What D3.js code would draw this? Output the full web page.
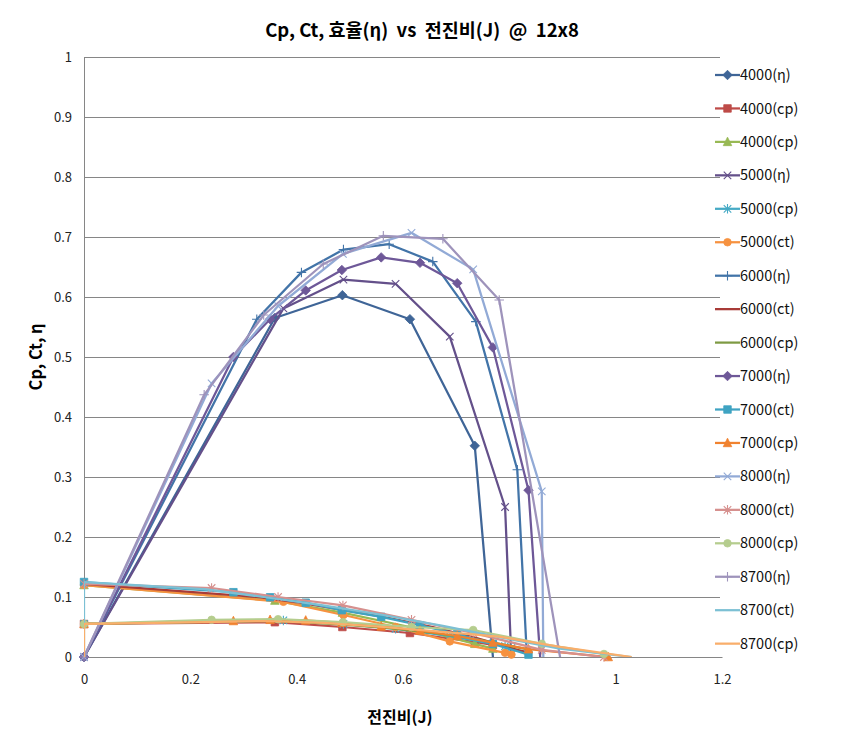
<!DOCTYPE html>
<html><head><meta charset="utf-8">
<script src="https://cdn.jsdelivr.net/npm/d3@7"></script>
<style>
html,body{margin:0;padding:0;background:#fff;}
svg{display:block;}
text{font-family:"Noto Sans CJK KR","Noto Sans",sans-serif;}
</style></head>
<body>
<svg id="chart" width="847" height="744"></svg>
<script>
// ---------- DATA ----------
const xTicks = [0, 0.2, 0.4, 0.6, 0.8, 1, 1.2];
const xTickLabels = ["0", "0.2", "0.4", "0.6", "0.8", "1", "1.2"];
const yTicks = [0, 0.1, 0.2, 0.3, 0.4, 0.5, 0.6, 0.7, 0.8, 0.9, 1];
const yTickLabels = ["0", "0.1", "0.2", "0.3", "0.4", "0.5", "0.6", "0.7", "0.8", "0.9", "1"];

const seriesNames = ["4000(η)","4000(cp)","4000(cp)","5000(η)","5000(cp)","5000(ct)",
  "6000(η)","6000(ct)","6000(cp)","7000(η)","7000(ct)","7000(cp)",
  "8000(η)","8000(ct)","8000(cp)","8700(η)","8700(ct)","8700(cp)"];

// advance ratio J and efficiency (last points fall below the axis and are clipped)
const jEta4000 = [0, 0.359, 0.486, 0.613, 0.735, 0.774];
const eta4000  = [0, 0.565, 0.603, 0.563, 0.352, -0.05];
const jEta5000 = [0, 0.375, 0.488, 0.586, 0.688, 0.792, 0.806];
const eta5000  = [0, 0.581, 0.629, 0.622, 0.534, 0.250, -0.05];
const jEta6000 = [0, 0.325, 0.409, 0.488, 0.574, 0.656, 0.737, 0.815, 0.836];
const eta6000  = [0, 0.563, 0.641, 0.679, 0.688, 0.659, 0.559, 0.312, -0.05];
const jEta7000 = [0, 0.281, 0.350, 0.417, 0.485, 0.559, 0.632, 0.702, 0.769, 0.836, 0.862];
const eta7000  = [0, 0.500, 0.563, 0.611, 0.645, 0.666, 0.657, 0.623, 0.516, 0.278, -0.05];
const jEta8000 = [0, 0.240, 0.365, 0.487, 0.616, 0.732, 0.861, 0.8645];
const eta8000  = [0, 0.456, 0.585, 0.672, 0.707, 0.646, 0.276, -0.05];
const jEta8700 = [0, 0.226, 0.338, 0.450, 0.563, 0.675, 0.781, 0.905];
const eta8700  = [0, 0.437, 0.570, 0.655, 0.702, 0.697, 0.595, -0.05];

// coefficients
const jLow4000 = [0, 0.359, 0.486, 0.613, 0.735, 0.769];
const cpA4000  = [0.055, 0.058, 0.050, 0.040, 0.025, 0.020];
const cpB4000  = [0.120, 0.094, 0.074, 0.050, 0.022, 0.014];
const jLow5000 = [0, 0.375, 0.488, 0.586, 0.688, 0.792, 0.804];
const cp5000   = [0.055, 0.061, 0.055, 0.047, 0.035, 0.018, 0.015];
const ct5000   = [0.120, 0.092, 0.070, 0.050, 0.026, 0.007, 0.004];
const jLow6000 = [0, 0.325, 0.409, 0.488, 0.574, 0.656, 0.737, 0.815, 0.833];
const ct6000   = [0.122, 0.100, 0.090, 0.078, 0.065, 0.050, 0.032, 0.012, 0.008];
const cp6000   = [0.055, 0.060, 0.058, 0.054, 0.048, 0.040, 0.030, 0.016, 0.013];
const jCt7000  = [0, 0.281, 0.350, 0.417, 0.485, 0.559, 0.632, 0.702, 0.769, 0.836];
const ct7000   = [0.125, 0.108, 0.0995, 0.0905, 0.078, 0.067, 0.053, 0.038, 0.022, 0.004];
const jCp7000  = [0, 0.281, 0.350, 0.417, 0.485, 0.559, 0.632, 0.702, 0.769, 0.836, 0.986];
const cp7000   = [0.055, 0.060, 0.062, 0.061, 0.057, 0.051, 0.044, 0.035, 0.024, 0.013, 0];
const jLow8000 = [0, 0.240, 0.365, 0.487, 0.616, 0.732, 0.861, 0.978];
const ct8000   = [0.122, 0.115, 0.100, 0.086, 0.062, 0.040, 0.012, 0];
const cp8000   = [0.055, 0.062, 0.063, 0.058, 0.050, 0.045, 0.022, 0.005];
const jLow8700 = [0, 0, 0.226, 0.338, 0.450, 0.563, 0.675, 0.781, 0.895, 1.030];
const ct8700   = [0, 0.125, 0.113, 0.100, 0.086, 0.070, 0.052, 0.033, 0.014, 0];
const cp8700   = [0, 0.055, 0.058, 0.060, 0.057, 0.050, 0.042, 0.034, 0.017, 0];

const seriesJ = [jEta4000, jLow4000, jLow4000, jEta5000, jLow5000, jLow5000,
  jEta6000, jLow6000, jLow6000, jEta7000, jCt7000, jCp7000,
  jEta8000, jLow8000, jLow8000, jEta8700, jLow8700, jLow8700];
const seriesV = [eta4000, cpA4000, cpB4000, eta5000, cp5000, ct5000,
  eta6000, ct6000, cp6000, eta7000, ct7000, cp7000,
  eta8000, ct8000, cp8000, eta8700, ct8700, cp8700];

// ---------- STYLE ----------
const seriesColor = ["#3f6597","#be4b48","#98b954","#64508a","#46aac5","#f69240",
  "#4274a8","#a83b38","#7e9a43","#6e5898","#3fa3c2","#f0822f",
  "#92aad6","#d6908e","#b5cd8e","#9e93bb","#7cc0d4","#f9ae6b"];
const seriesMarker = ["diamond","square","triangle","x","star","circle",
  "plus","none","none","diamond","square","triangle",
  "x","star","circle","plus","none","none"];

const svg = d3.select("#chart");
const x = d3.scaleLinear().domain([0, 1.2]).range([84, 722]);
const y = d3.scaleLinear().domain([0, 1]).range([657, 57]);

const NB = "\u00a0";
// title
svg.append("text").attr("x", 422).attr("y", 37).attr("text-anchor", "middle")
  .attr("font-size", 18.5).attr("font-weight", "bold").attr("fill", "#000")
  .text(`Cp, Ct, 효율(η)${NB}${NB}vs${NB}${NB}전진비(J)${NB}${NB}@${NB}${NB}12x8`);

// y axis with gridlines
const yAxis = svg.append("g").attr("transform", "translate(84,0)")
  .call(d3.axisLeft(y).tickValues(yTicks).tickFormat((d, i) => yTickLabels[i])
    .tickSizeInner(-636).tickSizeOuter(0).tickPadding(12));
yAxis.selectAll(".tick line").attr("stroke", "#868686").attr("stroke-width", 1);
yAxis.select(".domain").attr("stroke", "#868686");
yAxis.selectAll(".tick text").attr("font-size", 13).attr("fill", "#222")
  .style("font-family", "'Noto Sans CJK KR', sans-serif");

// x axis
const xAxis = svg.append("g").attr("transform", "translate(0,657)")
  .call(d3.axisBottom(x).tickValues(xTicks).tickFormat((d, i) => xTickLabels[i])
    .tickSize(0).tickPadding(18));
xAxis.select(".domain").attr("stroke", "#868686");
xAxis.selectAll(".tick text").attr("font-size", 13).attr("fill", "#222")
  .style("font-family", "'Noto Sans CJK KR', sans-serif");

// axis titles
svg.append("text").attr("transform", "translate(42,357) rotate(-90)")
  .attr("text-anchor", "middle").attr("font-size", 16.5).attr("font-weight", "bold")
  .text("Cp, Ct, η");
svg.append("text").attr("x", 400).attr("y", 723).attr("text-anchor", "middle")
  .attr("font-size", 16).attr("font-weight", "bold").text("전진비(J)");

// clip paths
const defs = svg.append("defs");
defs.append("clipPath").attr("id", "clipLine").append("rect")
  .attr("x", 84).attr("y", 40).attr("width", 640).attr("height", 617);
defs.append("clipPath").attr("id", "clipMark").append("rect")
  .attr("x", 70).attr("y", 40).attr("width", 660).attr("height", 628);

function markerPath(type, s) {
  const h = s / 2;
  switch (type) {
    case "diamond": return `M0,${-h-1}L${h+1},0L0,${h+1}L${-h-1},0Z`;
    case "square": return `M${-h},${-h}H${h}V${h}H${-h}Z`;
    case "triangle": return `M0,${-h-1}L${h+0.5},${h}L${-h-0.5},${h}Z`;
    case "circle": return d3.symbol(d3.symbolCircle, s * s * 0.8)();
    case "x": return `M${-h},${-h}L${h},${h}M${-h},${h}L${h},${-h}`;
    case "star": return `M${-h},${-h}L${h},${h}M${-h},${h}L${h},${-h}M0,${-h-1}V${h+1}`;
    case "plus": return `M${-h-1},0H${h+1}M0,${-h-1}V${h+1}`;
  }
  return "";
}
const strokeOnly = new Set(["x", "star", "plus"]);

const line = d3.line().x(d => x(d[0])).y(d => y(d[1]));
const plot = svg.append("g");

seriesNames.forEach((name, i) => {
  const pts = seriesJ[i].map((j, k) => [j, seriesV[i][k]]);
  const g = plot.append("g");
  g.append("path").datum(pts).attr("d", line).attr("fill", "none")
    .attr("stroke", seriesColor[i]).attr("stroke-width", 2.25)
    .attr("stroke-linejoin", "round").attr("clip-path", "url(#clipLine)");
  const m = seriesMarker[i];
  if (m !== "none") {
    const so = strokeOnly.has(m);
    g.append("g").attr("clip-path", "url(#clipMark)")
      .selectAll("path").data(pts).join("path")
      .attr("transform", d => `translate(${x(d[0])},${y(d[1])})`)
      .attr("d", markerPath(m, 7.5))
      .attr("fill", so ? "none" : seriesColor[i])
      .attr("stroke", seriesColor[i]).attr("stroke-width", so ? 1.1 : 0.8);
  }
});

// legend
const legend = svg.append("g");
seriesNames.forEach((name, i) => {
  const ly = 75 + i * 33.45;
  const g = legend.append("g").attr("transform", `translate(0,${ly})`);
  g.append("line").attr("x1", 715).attr("x2", 740).attr("y1", 0).attr("y2", 0)
    .attr("stroke", seriesColor[i]).attr("stroke-width", 2.25);
  const m = seriesMarker[i];
  if (m !== "none") {
    const so = strokeOnly.has(m);
    g.append("path").attr("transform", "translate(727.5,0)").attr("d", markerPath(m, 7.5))
      .attr("fill", so ? "none" : seriesColor[i]).attr("stroke", seriesColor[i])
      .attr("stroke-width", so ? 1.1 : 0.8);
  }
  g.append("text").attr("x", 740).attr("y", 0).attr("dy", "0.35em")
    .attr("font-size", 14.5).attr("fill", "#111").text(name);
});
</script>
</body></html>
